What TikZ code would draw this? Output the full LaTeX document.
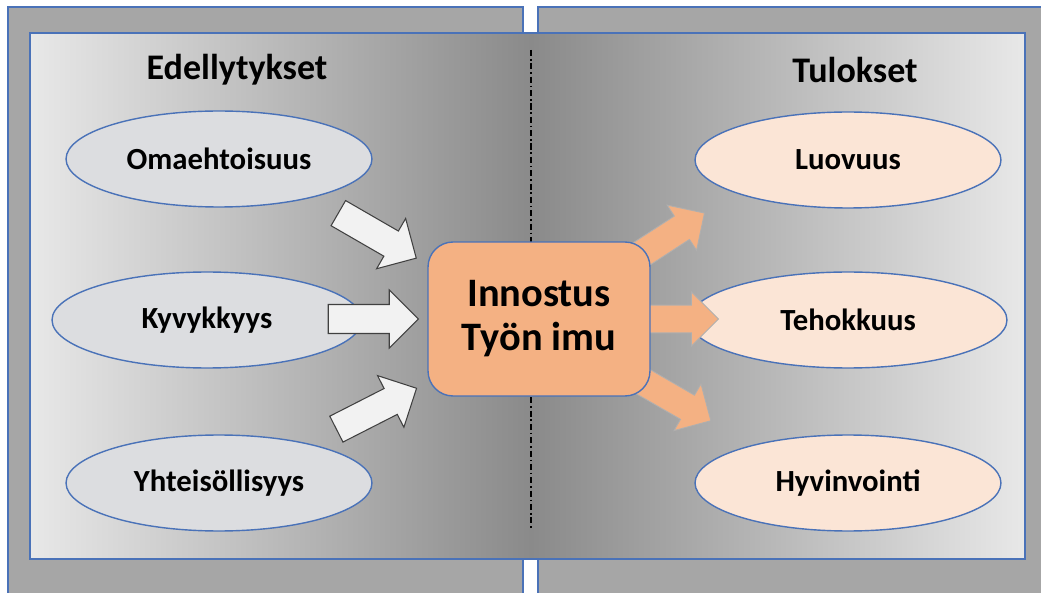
\documentclass[tikz,border=0pt]{standalone}
\usepackage{fontspec}
\setmainfont{Carlito}
\usepackage{tikz}
\usetikzlibrary{
  shapes.geometric,
  shapes.arrows,
  positioning
}
\definecolor{panelgrey}{HTML}{A6A6A6}
\definecolor{frameblue}{HTML}{4A72B8}
\definecolor{shadelight}{HTML}{E8E8E8}
\definecolor{shadedark}{HTML}{8A8A8A}
\definecolor{ovalgrey}{HTML}{DCDDE0}
\definecolor{ovalpeach}{HTML}{FBE5D6}
\definecolor{coreorange}{HTML}{F4B183}
\definecolor{arrowwhite}{HTML}{F2F2F2}
\definecolor{arrowedge}{HTML}{404040}
\definecolor{peachedge}{HTML}{AFAFAF}
\tikzset{
  panel/.style={
    draw=frameblue, fill=panelgrey, line width=0.8pt
  },
  oval/.style={
    ellipse, draw=frameblue, fill=#1, line width=0.8pt,
    minimum width=6.12cm, minimum height=1.92cm, inner sep=0pt,
    font=\fontsize{17.5}{20}\selectfont\bfseries
  },
  heading/.style={
    font=\fontsize{20.5}{24}\selectfont\bfseries
  },
  corebox/.style={
    rectangle, rounded corners=0.5cm, draw=frameblue, fill=coreorange,
    line width=0.8pt, minimum width=4.44cm, minimum height=3.08cm,
    align=center, font=\fontsize{23}{25}\selectfont\bfseries
  },
  inarrow/.style={
    single arrow, draw=arrowedge, fill=arrowwhite, line width=0.6pt,
    minimum height=#1, inner xsep=0pt, inner ysep=0.28cm,
    single arrow head extend=0.29cm
  },
  outarrow/.style={
    single arrow, draw=peachedge, fill=coreorange, line width=0.5pt,
    minimum height=#1, inner xsep=0pt, inner ysep=0.27cm,
    single arrow head extend=0.26cm
  },
  midline/.style={
    black, line width=1pt,
    dash pattern=on 3.5pt off 1.6pt on 0.9pt off 1.6pt
  },
}

\begin{document}
\begin{tikzpicture}[x=0.02cm, y=0.02cm]
  \useasboundingbox (0,0) rectangle (1041,592);
  \fill[white] (0,0) rectangle (1041,592);

  % outer panels
  \draw[panel] (8,-5) rectangle (523,585);
  \draw[panel] (538,-5) rectangle (1046,585);

  % shaded inner sheet
  \shade[left color=shadelight, right color=shadedark] (30,33) rectangle (531,559);
  \shade[left color=shadedark, right color=shadelight] (531,33) rectangle (1025,559);
  \draw[frameblue, line width=0.8pt] (30,33) rectangle (1025,559);

  \coordinate (midtop) at (531,542);
  \coordinate (midbot) at (531,62);
  \draw[midline] (midtop) -- (midbot);

  \node[heading] (edell) at (237,522) {Edellytykset};
  \node[heading] (tulok) at (855,522) {Tulokset};

  % left side
  \node[oval=ovalgrey] (omaeh) at (219,433) {Omaehtoisuus};
  \node[oval=ovalgrey, minimum width=6.2cm] (kyvyk) at (207,272) {Kyvykkyys};
  \node[oval=ovalgrey] (yhteis) at (219,109) {Yhteisöllisyys};

  % right side
  \node[oval=ovalpeach] (luov) at (848,432) {Luovuus};
  \node[oval=ovalpeach, minimum width=6.36cm] (tehok) at (848,272) {Tehokkuus};
  \node[oval=ovalpeach] (hyvin) at (848,109) {Hyvinvointi};

  \node[outarrow=1.7cm, rotate=33] (outA) at (663,352) {};
  \node[outarrow=1.46cm] (outB) at (675,273) {};
  \node[outarrow=1.7cm, rotate=-30] (outC) at (668,196) {};

  \node[corebox] (innostus) at (539,273) {Innostus\\Työn imu};

  \node[inarrow=1.8cm, rotate=-30] (inA) at (371,360) {};
  \node[inarrow=1.8cm] (inB) at (366,273) {};
  \node[inarrow=1.8cm, rotate=27] (inC) at (370,180) {};
\end{tikzpicture}
\end{document}
